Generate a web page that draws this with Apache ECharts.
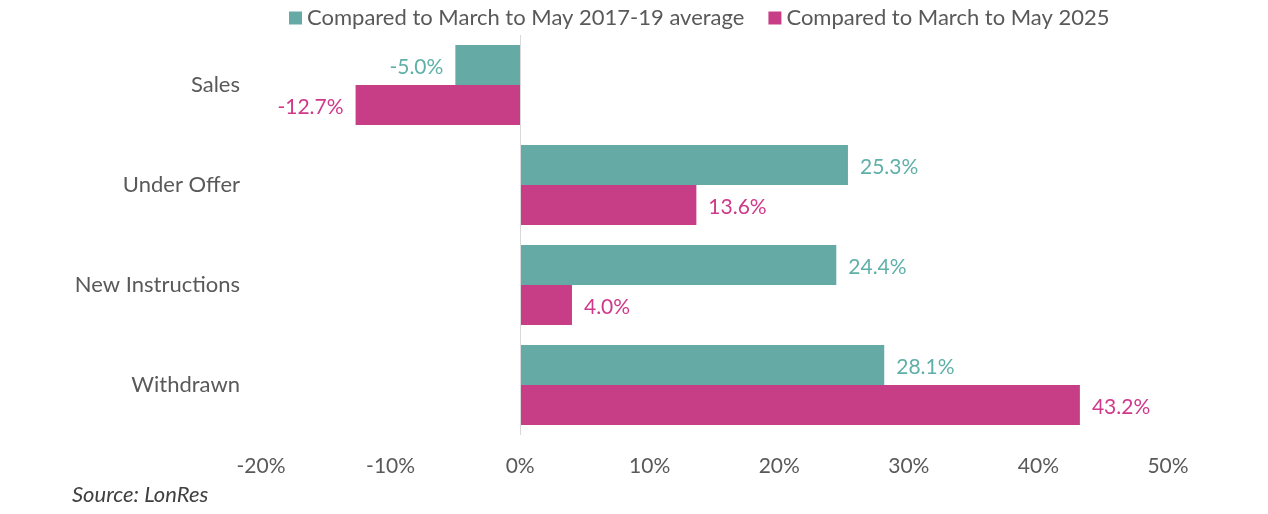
<!DOCTYPE html>
<html>
<head>
<meta charset="utf-8">
<script src="https://cdn.jsdelivr.net/npm/echarts@6/dist/echarts.min.js"></script>
<style>
  html, body { margin: 0; padding: 0; background: #fff; }
  #chart { width: 1268px; height: 514px; }
</style>
</head>
<body>
<div id="chart"></div>
<script>
// categories, top to bottom
var categories = ['Sales', 'Under Offer', 'New Instructions', 'Withdrawn'];
var seriesNames = ['Compared to March to May 2017-19 average', 'Compared to March to May 2025'];
var vs201719 = [-5.0, 25.3, 24.4, 28.1];
var vs2025 = [-12.7, 13.6, 4.0, 43.2];

var FONT = 'Lato';
var teal = '#66aaa6';
var pink = '#c83e86';

function barLabel(color) {
  return {
    show: true,
    position: 'right',
    distance: 12,
    offset: [0, 2],
    color: color,
    fontFamily: FONT,
    fontSize: 21,
    formatter: function(p) { return p.value.toFixed(1) + '%'; }
  };
}

function makeData(vals) {
  // negative bars get their label on the left
  return vals.map(function(v) {
    var item = { value: v };
    if (v < 0) item.label = { position: 'left' };
    return item;
  });
}

var chart = echarts.init(document.getElementById('chart'));
chart.setOption({
  animation: false,
  color: [teal, pink],
  textStyle: { fontFamily: FONT },
  legend: {
    top: 2,
    left: 284,
    itemWidth: 13,
    itemHeight: 13,
    itemGap: 24,
    icon: 'rect',
    textStyle: { fontSize: 22, color: '#595959', fontFamily: FONT }
  },
  grid: { left: 261, right: 100, top: 35, height: 400 },
  xAxis: {
    type: 'value',
    min: -20, max: 50, interval: 10,
    axisLine: { show: false },
    axisTick: { show: false },
    splitLine: { show: false },
    axisLabel: { formatter: '{value}%', color: '#595959', fontSize: 21, margin: 21, fontFamily: FONT }
  },
  yAxis: {
    type: 'category',
    inverse: true,
    data: categories,
    axisLine: { show: false, onZero: false },
    axisTick: { show: false },
    axisLabel: { color: '#595959', fontSize: 22, margin: 21, fontFamily: FONT }
  },
  series: [
    {
      name: seriesNames[0],
      type: 'bar',
      barWidth: 40,
      barGap: '0%',
      data: makeData(vs201719),
      label: barLabel('#5fb0a8'),
      markLine: {
        silent: true,
        symbol: 'none',
        label: { show: false },
        lineStyle: { color: '#d9d9d9', type: 'solid', width: 1 },
        data: [{ xAxis: 0 }]
      }
    },
    {
      name: seriesNames[1],
      type: 'bar',
      barWidth: 40,
      data: makeData(vs2025),
      label: barLabel('#d0398a')
    }
  ],
  graphic: [
    {
      type: 'text',
      left: 72,
      top: 484,
      style: { text: 'Source: LonRes', fontSize: 22, fontStyle: 'italic', fill: '#404040', fontFamily: FONT }
    }
  ]
});
</script>
</body>
</html>
